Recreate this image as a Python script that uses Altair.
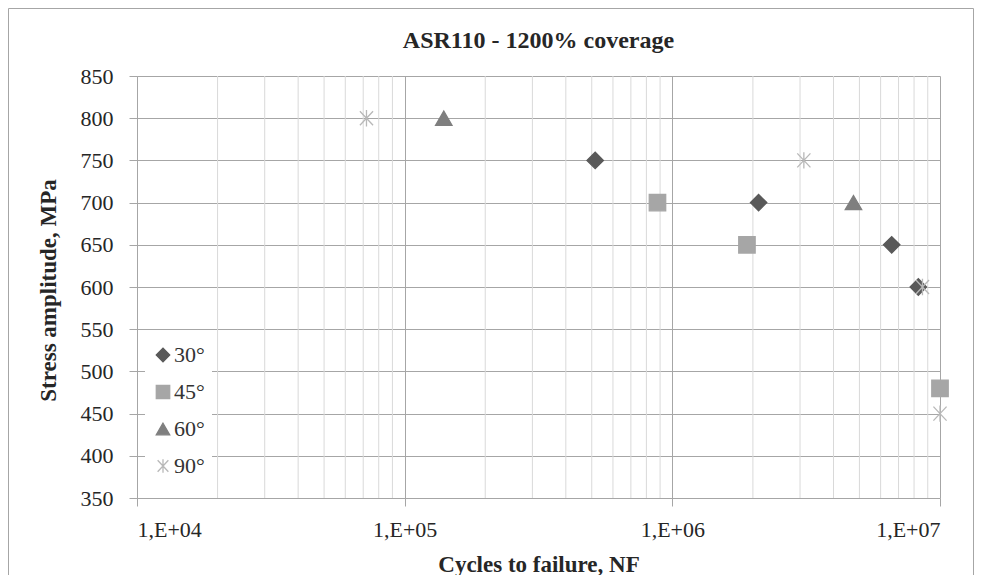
import altair as alt
import pandas as pd

# ---- data ----
series_names = ["30°", "45°", "60°", "90°"]
cycles_30 = [5.15e5, 2.1e6, 6.6e6, 8.3e6]
stress_30 = [750, 700, 650, 600]
cycles_45 = [8.8e5, 1.9e6, 1.0e7]
stress_45 = [700, 650, 480]
cycles_60 = [1.4e5, 4.75e6]
stress_60 = [800, 700]
cycles_90 = [7.2e4, 3.1e6, 8.6e6, 1.0e7]
stress_90 = [800, 750, 600, 450]

x_major_ticks = [1e4, 1e5, 1e6, 1e7]
x_minor_ticks = [2e4, 3e4, 4e4, 5e4, 6e4, 7e4, 8e4, 9e4,
                 2e5, 3e5, 4e5, 5e5, 6e5, 7e5, 8e5, 9e5,
                 2e6, 3e6, 4e6, 5e6, 6e6, 7e6, 8e6, 9e6]
y_ticks = [350, 400, 450, 500, 550, 600, 650, 700, 750, 800, 850]

chart_title = "ASR110 - 1200% coverage"
series_colors = ["#595959", "#A6A6A6", "#7F7F7F", "#B8B8B8"]
asterisk = "M-0.8,-0.85L0.8,0.85M-0.8,0.85L0.8,-0.85M0,-1L0,1"
series_shapes = ["diamond", "square", "triangle-up", asterisk]

rows = []
for name, xs, ys in zip(series_names,
                        [cycles_30, cycles_45, cycles_60, cycles_90],
                        [stress_30, stress_45, stress_60, stress_90]):
    for xv, yv in zip(xs, ys):
        rows.append({"series": name, "cycles": xv, "stress": yv})
df = pd.DataFrame(rows)
minor_df = pd.DataFrame({"m": x_minor_ticks})

W, H = 803, 422
FONT = "Liberation Serif, Times New Roman, serif"

x_scale = alt.Scale(type="log", domain=[1e4, 1e7], nice=False)
y_scale = alt.Scale(domain=[350, 850], nice=False, zero=False)

x_axis = alt.Axis(values=x_major_ticks, title="Cycles to failure, NF",
                  labelExpr="'1,E+0' + round(log(datum.value)/LN10)",
                  titleX=W / 2, titleY=73, titleBaseline="alphabetic",
                  titleAnchor="middle")
y_axis = alt.Axis(values=y_ticks, title="Stress amplitude, MPa",
                  titleAngle=270, titleX=-89, titleY=H / 2 + 3,
                  titleBaseline="middle", titleAlign="center",
                  labelPadding=16)

minor = alt.Chart(minor_df).mark_rule(color="#D9D9D9", strokeWidth=1).encode(
    x=alt.X("m:Q", scale=x_scale, axis=x_axis, title="Cycles to failure, NF")
)

border = alt.Chart(pd.DataFrame({"a": [0]})).mark_rect(
    fill=None, stroke="#A6A6A6", strokeWidth=1
).encode(
    x=alt.value(-128.5), x2=alt.value(836.5),
    y=alt.value(-67.5), y2=alt.value(620)
)

title_text = alt.Chart(pd.DataFrame({"t": [chart_title]})).mark_text(
    font=FONT, fontSize=24, fontWeight="bold", color="#262626",
    align="center", baseline="alphabetic"
).encode(text="t:N", x=alt.value(W / 2), y=alt.value(-28))

legend = alt.Legend(title=None, orient="none", legendX=8, legendY=261,
                    fillColor="white", padding=7, labelFont=FONT,
                    labelFontSize=22, labelColor="#333333", labelOffset=0,
                    rowPadding=15, symbolSize=180, symbolStrokeWidth=1.3)

points = alt.Chart(df).mark_point(filled=True, strokeWidth=1.3, opacity=1, size=270).encode(
    x=alt.X("cycles:Q", scale=x_scale, axis=x_axis),
    y=alt.Y("stress:Q", scale=y_scale, axis=y_axis),
    fill=alt.Fill("series:N", scale=alt.Scale(domain=series_names, range=series_colors),
                  legend=legend),
    stroke=alt.Stroke("series:N", scale=alt.Scale(domain=series_names, range=series_colors),
                      legend=legend),
    shape=alt.Shape("series:N", scale=alt.Scale(domain=series_names, range=series_shapes),
                    legend=legend),
)

chart = alt.layer(minor, points, title_text, border).properties(
    width=W, height=H,
    autosize=alt.AutoSizeParams(type="none"),
    padding={"left": 129, "top": 68, "right": 34, "bottom": 77},
).configure_view(stroke=None).configure_axis(
    labelFont=FONT, labelFontSize=22, labelColor="#262626",
    titleFont=FONT, titleFontSize=23, titleFontWeight="bold", titleColor="#262626",
    gridColor="#A6A6A6", gridWidth=1, grid=True,
    domainColor="#A6A6A6", tickColor="#A6A6A6", tickSize=8,
).configure_axisX(labelPadding=13, domain=False)

chart.save("out.html", embed_options={"renderer": "svg", "actions": False})
